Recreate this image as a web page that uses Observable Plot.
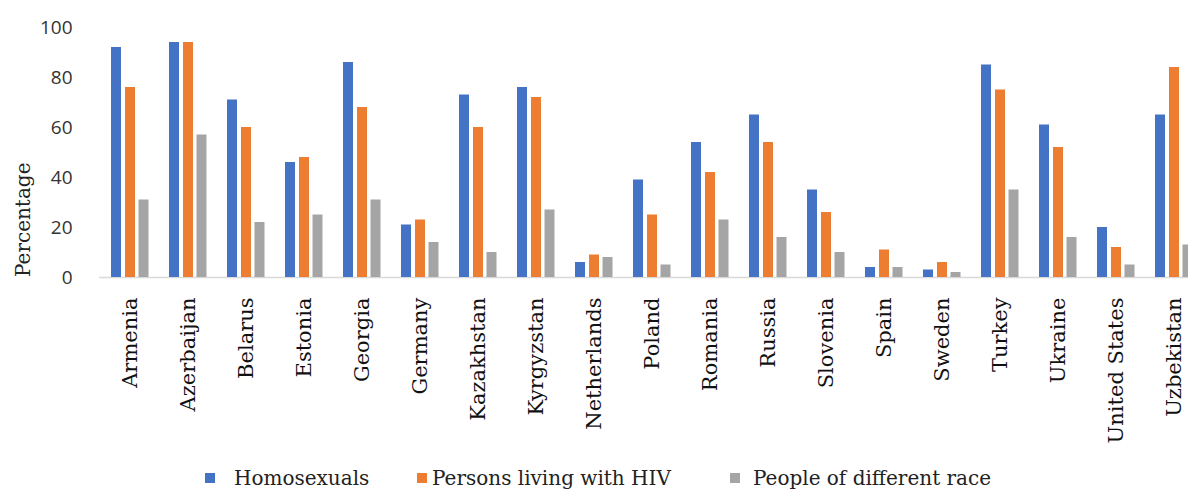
<!DOCTYPE html>
<html>
<head>
<meta charset="utf-8">
<script src="https://cdn.jsdelivr.net/npm/d3@7"></script>
<script src="https://cdn.jsdelivr.net/npm/@observablehq/plot@0.6"></script>
<style>
  html, body { margin: 0; padding: 0; background: #fff; width: 1188px; height: 489px; overflow: hidden; }
  #wrap { position: relative; width: 1205px; height: 489px; }
  #wrap svg { max-width: none !important; display: block; }
  #ylabel { position: absolute; left: 13px; top: 277px; transform-origin: 0 0; transform: rotate(-90deg);
            font-family: "DejaVu Serif", serif; font-size: 20px; color: #222; white-space: nowrap; line-height: 20px; }
  .item { position: absolute; top: 467px; display: flex; align-items: center;
          font-family: "DejaVu Serif", serif; font-size: 20px; color: #222; white-space: nowrap; line-height: 22px; }
  .sw { width: 10px; height: 10px; }
</style>
</head>
<body>
<div id="wrap"></div>
<script>
const countries = ["Armenia","Azerbaijan","Belarus","Estonia","Georgia","Germany","Kazakhstan","Kyrgyzstan","Netherlands","Poland","Romania","Russia","Slovenia","Spain","Sweden","Turkey","Ukraine","United States","Uzbekistan"];
const homosexuals = [92, 94, 71, 46, 86, 21, 73, 76, 6, 39, 54, 65, 35, 4, 3, 85, 61, 20, 65];
const hiv         = [76, 94, 60, 48, 68, 23, 60, 72, 9, 25, 42, 54, 26, 11, 6, 75, 52, 12, 84];
const race        = [31, 57, 22, 25, 31, 14, 10, 27, 8, 5, 23, 16, 10, 4, 2, 35, 16, 5, 13];
const seriesNames = ["Homosexuals", "Persons living with HIV", "People of different race"];
const seriesColors = ["#4472C4", "#ED7D31", "#A5A5A5"];
const yTicks = [0, 20, 40, 60, 80, 100];

const rows = (vals) => countries.map((c, i) => ({country: c, value: vals[i]}));
const seriesData = [rows(homosexuals), rows(hiv), rows(race)];
const offsets = [-14, 0, 13.5];

const chart = Plot.plot({
  width: 1205,
  height: 460,
  marginLeft: 99,
  marginRight: 0,
  marginTop: 27,
  marginBottom: 183,
  x: {domain: countries, padding: 0, axis: null},
  y: {domain: [0, 100], axis: null},
  marks: [
    Plot.ruleY([0], {stroke: "#d9d9d9", strokeWidth: 1.5}),
    ...seriesData.map((d, k) => Plot.barY(d, {
      x: "country", y: "value", fill: seriesColors[k],
      dx: offsets[k], insetLeft: 24, insetRight: 24
    })),
    Plot.axisY({ticks: yTicks, tickSize: 0, tickPadding: 27, label: null,
      fontSize: 19, fontFamily: "'Open Sans', sans-serif", fill: "#333"}),
    Plot.axisX({tickSize: 0, tickPadding: 20, tickRotate: -90, label: null,
      fontSize: 21, fontFamily: "'DejaVu Serif', serif", fill: "#111"})
  ]
});
const wrap = document.getElementById("wrap");
wrap.appendChild(chart);

const yl = document.createElement("div");
yl.id = "ylabel";
yl.textContent = "Percentage";
wrap.appendChild(yl);

const legendLeft = [205, 417, 730];
const legendGap = [19, 5, 13];
seriesNames.forEach((name, k) => {
  const it = document.createElement("div");
  it.className = "item";
  it.style.left = legendLeft[k] + "px";
  const sw = document.createElement("span");
  sw.className = "sw";
  sw.style.background = seriesColors[k];
  sw.style.marginRight = legendGap[k] + "px";
  const t = document.createElement("span");
  t.textContent = name;
  it.appendChild(sw); it.appendChild(t);
  wrap.appendChild(it);
});
</script>
</body>
</html>
